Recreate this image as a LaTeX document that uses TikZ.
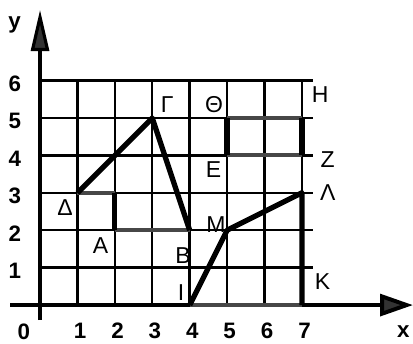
\documentclass[tikz,border=0pt]{standalone}
\usepackage{fontspec}
\setmainfont{Liberation Sans}
\usetikzlibrary{arrows.meta}

\begin{document}
\begin{tikzpicture}[
  font=\fontsize{17.5}{20}\selectfont,
  grid line/.style={
    draw=black,
    line width=1.8pt
  },
  axis line/.style={
    draw=black,
    line width=2.4pt
  },
  shape edge/.style={
    draw=black,
    line width=4pt,
    line join=round
  },
  shade edge/.style={
    draw=black!72,
    line width=3pt
  },
  tick label/.style={
    font=\fontsize{17}{20}\selectfont\bfseries,
    inner sep=0pt
  },
  point label/.style={
    inner sep=0pt
  }
]
\useasboundingbox (-1.07,-1.02) rectangle (9.97,8.155);

% grid
\foreach \i in {0,...,7}
  \draw[grid line] (\i,0) -- (\i,6);
\foreach \j in {1,...,6}
  \draw[grid line] (0,\j) -- (7.3,\j);

% axes
\draw[axis line,-{Triangle[length=11mm,width=4.8mm,fill=black!80]}]
  (0,-0.4) -- (0,7.89);
\draw[axis line,line width=3pt,-{Triangle[length=8.8mm,width=5.8mm,fill=black!80]}]
  (-0.8,0) -- (9.97,0);

% points
\coordinate (delta) at (1,3);
\coordinate (gamma) at (3,5);
\coordinate (beta) at (4,2);
\coordinate (bend-top) at (2,3);
\coordinate (bend-low) at (2,2);
\coordinate (iota) at (4,0);
\coordinate (mu) at (5,2);
\coordinate (lambda) at (7,3);
\coordinate (kappa) at (7,0);
\coordinate (box-sw) at (5,4);
\coordinate (box-nw) at (5,5);
\coordinate (box-ne) at (7,5);
\coordinate (box-se) at (7,4);

% shapes
\draw[shade edge] (delta) -- (bend-top);
\draw[shade edge] (bend-low) -- (beta);
\draw[shape edge] (bend-top) -- (bend-low);
\draw[shape edge] (delta) -- (gamma) -- (beta);

\draw[shade edge] (box-nw) -- (box-ne);
\draw[shade edge] (box-sw) -- (box-se);
\draw[shape edge] (box-sw) -- (box-nw);
\draw[shape edge] (box-se) -- (box-ne);

\draw[shade edge] (iota) -- (kappa);
\draw[shape edge] (iota) -- (mu) -- (lambda) -- (kappa);

% axis labels
\node[tick label] (y-name) at (-0.68,7.5) {y};
\node[tick label] (x-name) at (9.71,-0.70) {x};
\node[tick label] (origin) at (-0.43,-0.71) {0};
\foreach \i in {1,...,7}
  \node[tick label] (x-\i) at (\i+0.07,-0.68) {\i};
\foreach \j in {1,...,6}
  \node[tick label] (y-\j) at (-0.67,\j-0.08) {\j};

% letters
\node[point label] (gamma-label) at (3.40,5.35) {Γ};
\node[point label] (theta-label) at (4.65,5.35) {Θ};
\node[point label] (eta-label) at (7.49,5.63) {Η};
\node[point label] (zeta-label) at (7.69,3.88) {Ζ};
\node[point label] (epsilon-label) at (4.64,3.61) {Ε};
\node[point label] (lambda-label) at (7.69,3.02) {Λ};
\node[point label] (mu-label) at (4.70,2.14) {Μ};
\node[point label] (kappa-label) at (7.55,0.63) {Κ};
\node[point label] (iota-label) at (3.77,0.33) {Ι};
\node[point label] (beta-label) at (3.82,1.31) {Β};
\node[point label] (alpha-label) at (1.62,1.58) {Α};
\node[point label] (delta-label) at (0.67,2.61) {Δ};

\end{tikzpicture}
\end{document}
